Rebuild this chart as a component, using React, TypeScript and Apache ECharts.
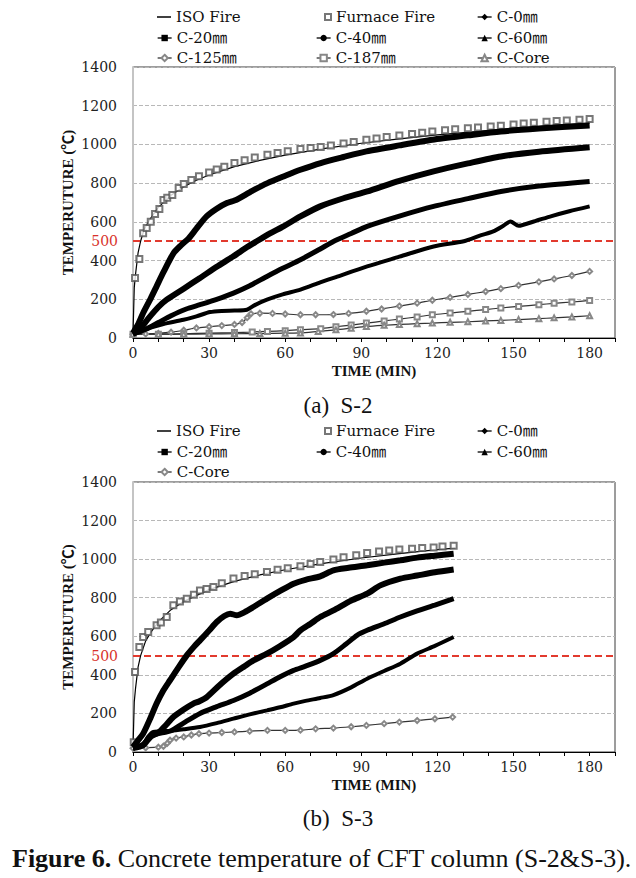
import React, { useEffect, useRef } from 'react';
import * as echarts from 'echarts';

type P = [number, number];

// ---------- axis ticks ----------
const xLabelTicks = [0, 30, 60, 90, 120, 150, 180];
const yTicks = [0, 200, 400, 600, 800, 1000, 1200, 1400];

// ---------- (a) S-2 ----------
const s2Iso: P[] = [[0,20],[0.5,260],[1,330],[2,440],[3,500],[4,545],[5,576],[7,620],[10,675],[15,738],[20,781],[25,815],[30,842],[40,885],[50,918],[60,945],[75,978],[90,1006],[105,1029],[120,1049],[135,1066],[150,1082],[165,1097],[180,1110]];
const s2Furnace: P[] = [[0.8,310],[2.5,408],[4,541],[5.4,568],[7,600],[8.7,640],[10.4,666],[12,713],[13.5,725],[15.5,739],[18,775],[20,795],[23,816],[26,835],[30,855],[33,870],[36,885],[40,904],[44,918],[48,932],[53,947],[57,956],[61,965],[66,976],[70,982],[74,987],[78,995],[83,1005],[87,1013],[92,1024],[96,1030],[100,1038],[105,1046],[110,1054],[114,1060],[118,1067],[123,1073],[127,1078],[132,1083],[136,1087],[141,1093],[145,1097],[150,1103],[154,1108],[158,1112],[163,1117],[167,1121],[171,1124],[176,1128],[180,1131]];
const s2C0: P[] = [[0,26],[2,70],[4,129],[7,205],[9.3,267],[12,340],[16,439],[19,480],[22,515],[25,565],[29,628],[33,668],[37,697],[40,710],[42,723],[47,760],[53,800],[60,838],[66,869],[74,904],[83,935],[92,964],[105,995],[118,1024],[132,1047],[145,1067],[160,1082],[180,1098]];
const s2C20: P[] = [[0,20],[3,50],[6,100],[10,160],[13.3,198],[20,255],[26.4,310],[33,368],[39.6,422],[45,470],[48.8,500],[54,540],[59.3,577],[66,628],[73.8,680],[83,722],[92.3,757],[105,812],[118.5,861],[132,902],[145,938],[160,962],[180,985]];
const s2C40: P[] = [[0,20],[5,45],[10,80],[15,115],[21,150],[26.4,172],[33,200],[39.6,232],[46,270],[52.8,318],[59,360],[66,404],[73.8,460],[79,499],[86,540],[92.3,577],[105,630],[118.5,680],[132,720],[145,757],[160,785],[180,809]];
const s2C60: P[] = [[0,20],[3,35],[6.6,52],[12,72],[19.9,94],[25,112],[30.4,134],[35,140],[40,142],[44.9,146],[48,170],[52.8,198],[59,225],[66,250],[73.8,287],[80,315],[92.3,370],[105,420],[118.5,473],[130.4,500],[137,530],[142,551],[146,580],[148.8,602],[152,580],[158,602],[165,630],[172,655],[180,680]];
const s2C125: P[] = [[0,20],[5,21],[10,24],[15,30],[20,40],[25,52],[30,58],[35,64],[40,70],[43,80],[45,105],[46.5,125],[50,128],[55,127],[60,124],[66,120],[72,120],[79,121],[85,127],[92,138],[98,150],[105,165],[112,180],[118,195],[125,210],[132,225],[139,240],[145,255],[152,272],[160,290],[166,305],[173,323],[180,344]];
const s2C187: P[] = [[0,20],[10,20],[20,22],[30,25],[40,28],[47,31],[53,34],[60,38],[66,43],[74,48],[80,58],[86,67],[92,77],[99,88],[105,98],[112,109],[118,120],[125,129],[132,138],[139,147],[145,155],[152,163],[160,172],[166,179],[173,186],[180,194]];
const s2Core: P[] = [[0,20],[10,20],[20,20],[30,21],[40,22],[50,23],[60,25],[66,26],[73,34],[80,42],[86,51],[92,60],[99,66],[105,70],[112,74],[118,77],[125,81],[132,84],[139,88],[145,91],[152,95],[160,100],[166,104],[173,109],[180,115]];

// ---------- (b) S-3 ----------
const s3Iso: P[] = [[0,20],[0.5,260],[1,330],[2,440],[3,500],[5,576],[7,620],[10,675],[15,738],[20,781],[30,842],[40,885],[50,918],[60,945],[75,978],[90,1006],[105,1029],[120,1049],[127,1057]];
const s3Furnace: P[] = [[0.3,50],[0.8,415],[2.5,544],[4,596],[6,622],[9.3,657],[11,672],[13.3,700],[15.9,761],[18.5,780],[21.2,795],[24,815],[26.4,838],[29,845],[31.7,855],[35,875],[39.6,899],[44,912],[48,922],[52.8,933],[57,945],[61,953],[66,963],[70,975],[73.8,985],[79,998],[83,1010],[88,1020],[92.3,1032],[97,1040],[101,1045],[105,1050],[110,1054],[114,1058],[118.5,1060],[122,1066],[126.4,1070]];
const s3C0: P[] = [[0,26],[2,60],[4,95],[7,180],[9.3,251],[12,320],[14.6,372],[18,440],[21.2,501],[24,545],[26.4,579],[30,630],[33,674],[36,705],[38.3,717],[40.9,709],[44,725],[47.5,752],[52.8,795],[58,835],[63.3,873],[68,893],[73.8,911],[79,942],[85,955],[92.3,968],[99,982],[105.4,994],[112,1008],[119,1018],[126.4,1028]];
const s3C20: P[] = [[0,20],[4,35],[7,80],[10,100],[13,140],[15.9,181],[20,220],[23.8,251],[26,262],[29.1,285],[34,345],[39.6,406],[44,445],[47.5,475],[52.8,510],[58,550],[63.3,596],[66,631],[70,665],[73.8,700],[79,734],[86,785],[92.3,821],[97.5,864],[105.4,899],[112,915],[119,932],[126.4,946]];
const s3C40: P[] = [[0,20],[4,40],[7,85],[10,95],[15,110],[19.9,150],[26.4,200],[33,235],[39.6,267],[46,305],[52.8,353],[58,390],[63.3,423],[68,445],[73.8,475],[79,510],[84,560],[88.3,605],[92.3,631],[99,665],[105.4,700],[112,732],[119,762],[126.4,795]];
const s3C60: P[] = [[0,20],[4,40],[6,80],[8,104],[15,110],[20,118],[26.4,130],[33,150],[39.6,173],[46,195],[52.8,216],[58,232],[63.3,251],[68,265],[73.8,280],[79,295],[86,335],[92.3,380],[99,420],[105.4,458],[112,510],[119,550],[126.4,596]];
const s3Core: P[] = [[0,20],[5,22],[10,25],[12,30],[13.5,45],[14.6,61],[17,72],[20,78],[23,88],[26,95],[30,98],[35,101],[40,104],[46,108],[53,112],[60,112],[66,113],[72,120],[79,124],[86,131],[92,138],[99,147],[105,155],[112,163],[119,172],[126,181]];

// ---------- legend layout (name, column, row) ----------
const topLegend: [string, number, number][] = [
  ['ISO Fire', 0, 0], ['Furnace Fire', 1, 0], ['C-0㎜', 2, 0],
  ['C-20㎜', 0, 1], ['C-40㎜', 1, 1], ['C-60㎜', 2, 1],
  ['C-125㎜', 0, 2], ['C-187㎜', 1, 2], ['C-Core', 2, 2],
];
const bottomLegend: [string, number, number][] = [
  ['ISO Fire', 0, 0], ['Furnace Fire', 1, 0], ['C-0㎜', 2, 0],
  ['C-20㎜', 0, 1], ['C-40㎜', 1, 1], ['C-60㎜', 2, 1],
  ['C-Core', 0, 2],
];

const SERIF = "'DejaVu Serif', 'Noto Sans CJK KR', serif";
const TIMES = "'Liberation Serif', 'Noto Sans CJK KR', serif";

const PFX = 'S3:';

function buildOption() {
  const series: any[] = [];
  const mark500 = {
    silent: true,
    symbol: 'none',
    data: [{ yAxis: 500 }],
    lineStyle: { color: '#e23a2e', type: [7, 4], width: 2 },
    label: { show: true, position: 'start', formatter: '500', color: '#d8322a', fontFamily: SERIF, fontSize: 14, distance: 15 },
  };

  const iso = (name: string, data: P[], g: number) => ({
    name, type: 'line', xAxisIndex: g, yAxisIndex: g, data, symbol: 'none', z: 3,
    lineStyle: { color: '#000', width: 1.2 }, itemStyle: { color: '#000' }, markLine: mark500,
  });
  const furnace = (name: string, data: P[], g: number) => ({
    name, type: 'scatter', xAxisIndex: g, yAxisIndex: g, data, symbol: 'emptyRect', symbolSize: 6, z: 4,
    itemStyle: { color: '#555', borderWidth: 1 },
  });
  const thick = (name: string, data: P[], g: number, symbol: string, width: number) => ({
    name, type: 'line', xAxisIndex: g, yAxisIndex: g, data, symbol, showSymbol: false, smooth: 0.25, z: 5,
    lineStyle: { color: '#000', width }, itemStyle: { color: '#000' },
  });
  const hollow = (name: string, data: P[], g: number, symbol: string) => ({
    name, type: 'line', xAxisIndex: g, yAxisIndex: g, data, symbol, symbolSize: 5, showSymbol: true, showAllSymbol: true, smooth: 0.25, z: 4,
    lineStyle: { color: '#333', width: 1.2 }, itemStyle: { color: '#888', borderWidth: 1 },
  });

  series.push(
    iso('ISO Fire', s2Iso, 0),
    furnace('Furnace Fire', s2Furnace, 0),
    thick('C-0㎜', s2C0, 0, 'diamond', 6),
    thick('C-20㎜', s2C20, 0, 'rect', 6),
    thick('C-40㎜', s2C40, 0, 'circle', 5),
    thick('C-60㎜', s2C60, 0, 'triangle', 4),
    hollow('C-125㎜', s2C125, 0, 'emptyDiamond'),
    hollow('C-187㎜', s2C187, 0, 'emptyRect'),
    hollow('C-Core', s2Core, 0, 'emptyTriangle'),
    iso(PFX + 'ISO Fire', s3Iso, 1),
    furnace(PFX + 'Furnace Fire', s3Furnace, 1),
    thick(PFX + 'C-0㎜', s3C0, 1, 'diamond', 6),
    thick(PFX + 'C-20㎜', s3C20, 1, 'rect', 6),
    thick(PFX + 'C-40㎜', s3C40, 1, 'circle', 5),
    thick(PFX + 'C-60㎜', s3C60, 1, 'triangle', 4),
    hollow(PFX + 'C-Core', s3Core, 1, 'emptyDiamond'),
  );

  const colText = [176, 335, 496];
  const rowTop = [17, 38, 58];
  const legends: any[] = [];
  const addLegend = (items: [string, number, number][], prefix: string, dy: number) => {
    items.forEach(([name, c, r]) => {
      let iw = 14, ih = 8;
      const extra: any = {};
      if (name === 'ISO Fire') { ih = 1.5; extra.icon = 'rect'; }
      if (name === 'Furnace Fire') { iw = 6; ih = 6; extra.icon = 'emptyRect'; }
      legends.push({
        data: [prefix + name],
        left: colText[c] - 5 - iw,
        top: rowTop[r] + dy - 8,
        itemWidth: iw,
        itemHeight: ih,
        itemGap: 0,
        padding: 0,
        selectedMode: false,
        formatter: (n: string) => n.replace(PFX, ''),
        textStyle: { fontFamily: SERIF, fontSize: 15, color: '#111', lineHeight: 16 },
        lineStyle: { width: 1.3 },
        ...extra,
      });
    });
  };
  addLegend(topLegend, '', 0);
  addLegend(bottomLegend, PFX, 414);

  const grids = [
    { left: 133, top: 67, width: 482, height: 271 },
    { left: 133, top: 482, width: 482, height: 270 },
  ].map((g) => ({ ...g, show: true, borderColor: '#3a3a3a', borderWidth: 1, backgroundColor: 'transparent' }));

  const xAxes = [0, 1].map((g) => ({
    type: 'value', gridIndex: g, min: 0, max: 190, interval: 10,
    name: 'TIME (MIN)', nameLocation: 'middle', nameGap: 25,
    nameTextStyle: { fontFamily: TIMES, fontWeight: 'bold', fontSize: 15, color: '#111' },
    axisLine: { show: true, lineStyle: { color: '#000', width: 1 } },
    axisTick: { show: true, length: 4, lineStyle: { color: '#000' } },
    axisLabel: {
      margin: 8, fontFamily: SERIF, fontSize: 14, color: '#222',
      formatter: (v: number) => (xLabelTicks.includes(v) ? String(v) : ''),
    },
    splitLine: { show: false },
  }));
  const yAxes = [0, 1].map((g) => ({
    type: 'value', gridIndex: g, min: yTicks[0], max: yTicks[yTicks.length - 1], interval: 200,
    name: 'TEMPERUTURE (℃)', nameLocation: 'middle', nameGap: 58, nameRotate: 90, nameMoveOverlap: false,
    nameTextStyle: { fontFamily: TIMES, fontWeight: 'bold', fontSize: 15, color: '#111' },
    axisLine: { show: true, lineStyle: { color: '#c4c4c4', width: 2 } },
    axisTick: { show: false },
    axisLabel: { margin: 16, fontFamily: SERIF, fontSize: 14, color: '#222', formatter: (v: number) => String(v) },
    splitLine: { show: true, lineStyle: { color: '#b8b8b8', type: [4, 2], width: 1 } },
  }));

  const graphic = [
    { type: 'text', x: 338, y: 405, style: { text: '(a)  S-2', fontFamily: TIMES, fontSize: 23, fill: '#111', align: 'center', verticalAlign: 'middle' } },
    { type: 'text', x: 338, y: 818, style: { text: '(b)  S-3', fontFamily: TIMES, fontSize: 23, fill: '#111', align: 'center', verticalAlign: 'middle' } },
    {
      type: 'text', x: 12, y: 858,
      style: {
        text: '{b|Figure 6.} Concrete temperature of CFT column (S-2&S-3).',
        fontFamily: TIMES, fontSize: 26, fill: '#111', verticalAlign: 'middle',
        rich: { b: { fontFamily: TIMES, fontSize: 26, fontWeight: 'bold', fill: '#111' } },
      },
    },
  ];

  return {
    animation: false,
    backgroundColor: '#fff',
    legend: legends,
    grid: grids,
    xAxis: xAxes,
    yAxis: yAxes,
    series,
    graphic,
  };
}

export default function App() {
  const ref = useRef<HTMLDivElement>(null);
  useEffect(() => {
    if (!ref.current) return;
    const chart = echarts.init(ref.current, null, { renderer: 'svg' });
    chart.setOption(buildOption() as any);
    return () => chart.dispose();
  }, []);
  return (
    <div
      ref={ref}
      style={{ position: 'absolute', left: 0, top: 0, width: 636, height: 878, background: '#fff' }}
    />
  );
}
